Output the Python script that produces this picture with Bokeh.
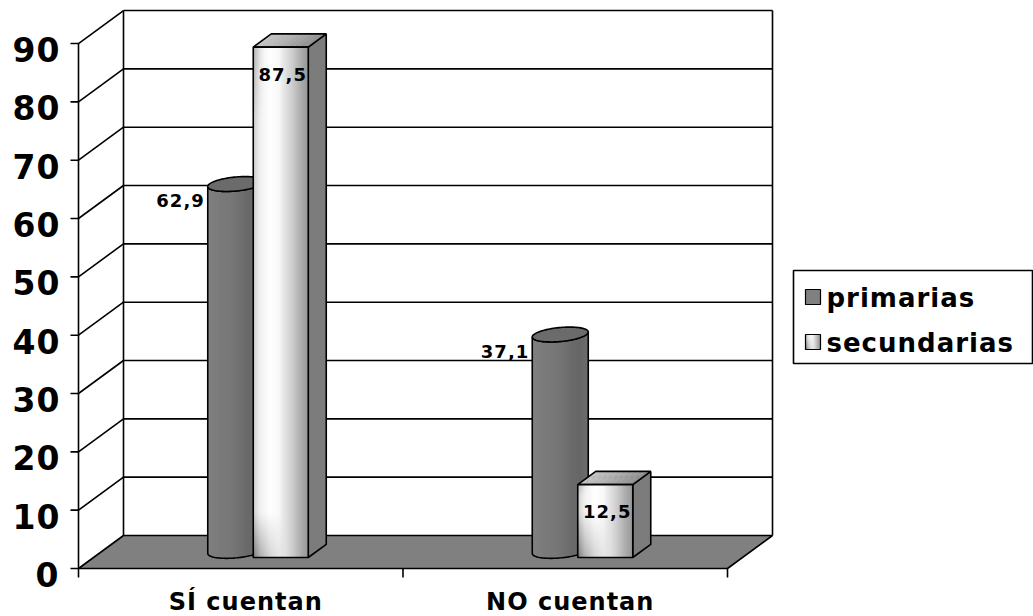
import numpy as np
from bokeh.plotting import figure
from bokeh.models import Range1d, InlineStyleSheet
from bokeh.embed import file_html
from bokeh.resources import INLINE
from bokeh.core.properties import value

# ---- data -------------------------------------------------------------
categories = ["SÍ cuentan", "NO cuentan"]
series_names = ["primarias", "secundarias"]
primarias = [62.9, 37.1]
secundarias = [87.5, 12.5]
y_ticks = [0, 10, 20, 30, 40, 50, 60, 70, 80, 90]

# ---- layout (pixels) ---------------------------------------------------
W, H = 1033, 616
AX_X, AX_Y = 78, 568        # front value axis / front floor edge
CAT_PX = 324.5              # width of one category slot on the front edge
UNIT_PX = 5.833             # pixels per value unit
DEPTH = (45, 33)            # oblique offset front plane -> back wall
BAR_PLANE = 1 / 3           # depth fraction where the bars stand
BOX_DEPTH = 0.4             # depth fraction taken by a bar

FONT = value("DejaVu Sans")
LW = 1.6
INK = "black"


def dx(px):
    return px / CAT_PX


def dy(px):
    return px / UNIT_PX


def at_x(px):
    return (px - AX_X) / CAT_PX


def at_y(py):
    return (AX_Y - py) / UNIT_PX


n_cat = len(categories)
y_top = y_ticks[-1]
DX, DY = dx(DEPTH[0]), dy(DEPTH[1])
bx0, by0 = DX * BAR_PLANE, DY * BAR_PLANE
bdx, bdy = DX * BOX_DEPTH, DY * BOX_DEPTH

p = figure(width=W, height=H,
           x_range=Range1d(at_x(0), at_x(W)), y_range=Range1d(at_y(H), at_y(0)),
           x_axis_location=None, y_axis_location=None,
           output_backend="svg", toolbar_location=None, min_border=0)
p.grid.visible = False
p.outline_line_color = None
p.background_fill_color = "white"
p.border_fill_color = "white"
p.stylesheets = [InlineStyleSheet(css=":host { letter-spacing: 1px; }")]

# ---- walls and floor ---------------------------------------------------
grid_vals = y_ticks[1:]
ng = len(grid_vals)
p.segment(x0=[DX] * ng, y0=[t + DY for t in grid_vals],
          x1=[n_cat + DX] * ng, y1=[t + DY for t in grid_vals],
          line_color=INK, line_width=LW)
p.segment(x0=[DX, n_cat + DX], y0=[DY, DY], x1=[DX, n_cat + DX], y1=[y_top + DY] * 2,
          line_color=INK, line_width=LW)
p.segment(x0=[0] * ng, y0=grid_vals, x1=[DX] * ng, y1=[t + DY for t in grid_vals],
          line_color=INK, line_width=LW)
p.patch([0, n_cat, n_cat + DX, DX], [0, 0, DY, DY],
        fill_color="#808080", line_color=INK, line_width=LW)


# ---- helpers for the 3-D bars -----------------------------------------
def gray_hex(g):
    g = int(round(max(0, min(255, g))))
    return "#{0:02x}{0:02x}{0:02x}".format(g)


def gradient_rgba(nx, ny, height_px):
    xn = np.linspace(0, 1, nx)[None, :]
    yn = np.linspace(0, 1, ny)[:, None]
    base = np.interp(xn, [0, 0.12, 0.3, 0.45, 0.7, 0.9, 1.0],
                     [0.82, 0.95, 1.0, 0.98, 0.82, 0.66, 0.60])
    ypx = yn * height_px
    dark = 0.32 * np.clip(1 - ypx / 45.0, 0, 1) * np.clip(1 - xn / 0.6, 0, 1)
    top = 0.12 * np.clip((yn - 0.85) / 0.15, 0, 1) * np.clip(1 - xn / 0.2, 0, 1)
    g = np.clip(base - dark - top, 0, 1) * 255
    img = np.empty((ny, nx), dtype=np.uint32)
    view = img.view(dtype=np.uint8).reshape((ny, nx, 4))
    view[..., 0] = g
    view[..., 1] = g
    view[..., 2] = g
    view[..., 3] = 255
    return img


R_PX, E_PX, TILT_PX = 28, 7, 2.5
cyl_profile_f = [0.0, 0.25, 0.45, 0.5, 0.7, 0.85, 1.0]
cyl_profile_g = [128, 122, 118, 116, 106, 102, 108]


def arc_offset(x, cx):
    c = np.clip((cx - x) / dx(R_PX), -1, 1)
    s = np.sqrt(1 - c ** 2)
    return -dy(E_PX) * s - dy(TILT_PX) * c


def cylinder(cx, base, v):
    t = np.linspace(0, np.pi, 48)
    ax = cx - dx(R_PX) * np.cos(t)
    off = -dy(E_PX) * np.sin(t) - dy(TILT_PX) * np.cos(t)
    top = base + v
    xs = np.concatenate([ax, ax[::-1]])
    ys = np.concatenate([base + off, (top + off)[::-1]])
    p.patch(xs, ys, fill_color="#777777", line_color=None)
    # vertical shading bands
    n = 28
    edges = np.linspace(cx - dx(R_PX), cx + dx(R_PX), n + 1)
    sx, sy, sc = [], [], []
    for k in range(n):
        xa, xb = edges[k], edges[k + 1] + dx(0.4)
        xb = min(xb, cx + dx(R_PX))
        oa, ob = arc_offset(xa, cx), arc_offset(xb, cx)
        sx.append([xa, xb, xb, xa])
        sy.append([base + oa, base + ob, top + ob, top + oa])
        f = (k + 0.5) / n
        sc.append(gray_hex(np.interp(f, cyl_profile_f, cyl_profile_g)))
    p.patches(sx, sy, fill_color=sc, line_color=None)
    p.patch(xs, ys, fill_alpha=0, line_color=INK, line_width=LW)
    tt = np.linspace(0, 2 * np.pi, 96)
    ex = cx - dx(R_PX) * np.cos(tt)
    ey = top - dy(E_PX) * np.sin(tt) - dy(TILT_PX) * np.cos(tt)
    p.patch(ex, ey, fill_color="#6b6b6b", line_color=INK, line_width=LW)


def box(xl, xr, base, v):
    top = base + v
    # side face
    p.patch([xr, xr, xr + bdx, xr + bdx], [base, top, top + bdy, base + bdy],
            fill_color="#7c7c7c", line_color=INK, line_width=LW)
    # top face, shaded left to right
    n = 10
    edges = np.linspace(xl, xr, n + 1)
    tx, ty, tc = [], [], []
    for k in range(n):
        xa, xb = edges[k], edges[k + 1] + dx(0.4)
        tx.append([xa, xb, xb + bdx, xa + bdx])
        ty.append([top, top, top + bdy, top + bdy])
        tc.append(gray_hex(np.interp((k + 0.5) / n, [0, 0.4, 1], [196, 178, 140])))
    p.patches(tx, ty, fill_color=tc, line_color=None)
    p.patch([xl, xr, xr + bdx, xl + bdx], [top, top, top + bdy, top + bdy],
            fill_alpha=0, line_color=INK, line_width=LW)
    # front face with a soft gradient
    h_px = v * UNIT_PX
    img = gradient_rgba(56, max(8, int(h_px)), h_px)
    p.image_rgba(image=[img], x=xl, y=base, dw=xr - xl, dh=v)
    p.patch([xl, xr, xr, xl], [base, base, top, top],
            fill_alpha=0, line_color=INK, line_width=LW)


def fmt(v):
    return f"{v:.1f}".replace(".", ",")


# ---- bars ---------------------------------------------------------------
for i in range(n_cat):
    c = i + 0.5 + bx0
    cx = c - dx(20)
    cylinder(cx, by0 + bdy / 2, primarias[i])
    box(c - dx(2.5), c + dx(52.5), by0, secundarias[i])

# value labels
cyl_left = [i + 0.5 + bx0 - dx(20) - dx(R_PX) for i in range(n_cat)]
p.text(x=cyl_left, y=[by0 + v for v in primarias], text=[fmt(v) for v in primarias],
       x_offset=-7, y_offset=10, text_font=FONT, text_font_style="bold",
       text_font_size="18px", text_align="right", text_baseline="middle", text_color=INK)
box_mid = [i + 0.5 + bx0 + dx(25) for i in range(n_cat)]
p.text(x=box_mid, y=[by0 + v for v in secundarias], text=[fmt(v) for v in secundarias],
       y_offset=27, text_font=FONT, text_font_style="bold",
       text_font_size="18px", text_align="center", text_baseline="middle", text_color=INK)

# ---- front axes ---------------------------------------------------------
p.segment(x0=[0], y0=[0], x1=[0], y1=[y_top], line_color=INK, line_width=LW)
p.segment(x0=[-dx(8)] * len(y_ticks), y0=y_ticks, x1=[0] * len(y_ticks), y1=y_ticks,
          line_color=INK, line_width=LW)
p.segment(x0=list(range(n_cat + 1)), y0=[0] * (n_cat + 1),
          x1=list(range(n_cat + 1)), y1=[-dy(9)] * (n_cat + 1),
          line_color=INK, line_width=LW)
p.text(x=[-dx(20)] * len(y_ticks), y=y_ticks, text=[str(t) for t in y_ticks],
       y_offset=6, text_font=FONT, text_font_style="bold", text_font_size="33px",
       text_align="right", text_baseline="middle", text_color=INK)
p.text(x=[i + 0.5 for i in range(n_cat)], y=[-dy(33)] * n_cat, text=categories,
       text_font=FONT, text_font_style="bold", text_font_size="24px", text_align="center",
       text_baseline="middle", text_color=INK)

# ---- legend -------------------------------------------------------------
p.quad(left=at_x(793), right=at_x(1032), top=at_y(270), bottom=at_y(363),
       fill_color="white", line_color=INK, line_width=LW)
sw_top = [289, 334]
p.quad(left=at_x(805), right=at_x(820), top=at_y(sw_top[0]), bottom=at_y(sw_top[0] + 15),
       fill_color="#808080", line_color=INK, line_width=1.2)
sw_img = gradient_rgba(16, 16, 40)
p.image_rgba(image=[sw_img], x=at_x(805), y=at_y(sw_top[1] + 15), dw=dx(15), dh=dy(15))
p.quad(left=at_x(805), right=at_x(820), top=at_y(sw_top[1]), bottom=at_y(sw_top[1] + 15),
       fill_alpha=0, line_color=INK, line_width=1.2)
p.text(x=[at_x(826)] * 2, y=[at_y(297), at_y(342)], text=series_names,
       text_font=FONT, text_font_style="bold", text_font_size="26px", text_align="left",
       text_baseline="middle", text_color=INK)

open("out.html", "w").write(file_html(p, INLINE))
